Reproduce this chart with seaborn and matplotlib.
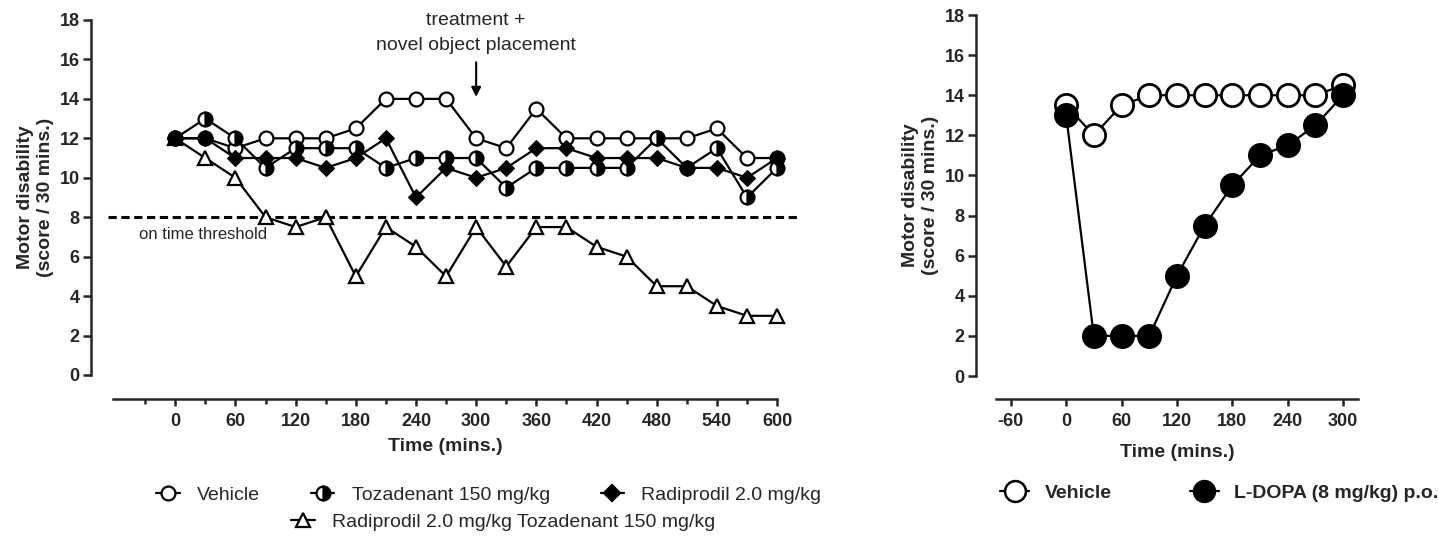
import pandas as pd
import seaborn as sns
import matplotlib.pyplot as plt
from matplotlib.lines import Line2D
from matplotlib.ticker import FixedLocator

# Datos panel izquierdo (puntuacion / 30 min)
tiempo_izq = list(range(0, 601, 30))
vehiculo = [12, 12, 11.5, 12, 12, 12, 12.5, 14, 14, 14, 12, 11.5, 13.5, 12, 12, 12, 12, 12, 12.5, 11, 11]
tozadenant = [12, 13, 12, 10.5, 11.5, 11.5, 11.5, 10.5, 11, 11, 11, 9.5, 10.5, 10.5, 10.5, 10.5, 12, 10.5, 11.5, 9, 10.5]
radiprodil = [12, 12, 11, 11, 11, 10.5, 11, 12, 9, 10.5, 10, 10.5, 11.5, 11.5, 11, 11, 11, 10.5, 10.5, 10, 11]
combinado = [12, 11, 10, 8, 7.5, 8, 5, 7.5, 6.5, 5, 7.5, 5.5, 7.5, 7.5, 6.5, 6, 4.5, 4.5, 3.5, 3, 3]
umbral = 8
tiempo_tratamiento = 300

# Datos panel derecho
tiempo_der = list(range(0, 301, 30))
vehiculo_der = [13.5, 12, 13.5, 14, 14, 14, 14, 14, 14, 14, 14.5]
ldopa = [13, 2, 2, 2, 5, 7.5, 9.5, 11, 11.5, 12.5, 14]

etiquetas_izq = ['Vehicle', 'Tozadenant 150 mg/kg', 'Radiprodil 2.0 mg/kg',
                 'Radiprodil 2.0 mg/kg Tozadenant 150 mg/kg']
etiquetas_der = ['Vehicle', 'L-DOPA (8 mg/kg) p.o.']

sns.set_style('ticks')
plt.rcParams['font.family'] = ['Liberation Sans', 'DejaVu Sans']
plt.rcParams['axes.linewidth'] = 1.8
plt.rcParams['axes.unicode_minus'] = False

fig = plt.figure(figsize=(14.38, 5.4), dpi=100)

# estilos de marcador
estilo_veh = dict(marker='o', markerfacecolor='white', markeredgecolor='black')
estilo_toz = dict(marker='o', fillstyle='right', markerfacecolor='black',
                  markerfacecoloralt='white', markeredgecolor='black')
estilo_rad = dict(marker='D', markerfacecolor='black', markeredgecolor='black')
estilo_comb = dict(marker='^', markerfacecolor='white', markeredgecolor='black')
estilo_ldopa = dict(marker='o', markerfacecolor='black', markeredgecolor='black')


def preparar_ejes(ax, xlim, xticks, off_left, off_bottom, pad_x=6):
    # los desplazamientos van en puntos (72 por pulgada)
    ax.set_xlim(*xlim)
    ax.set_ylim(0, 18)
    sns.despine(ax=ax)
    ax.spines['left'].set_position(('outward', off_left))
    ax.spines['bottom'].set_position(('outward', off_bottom))
    ax.spines['left'].set_linewidth(1.8)
    ax.spines['bottom'].set_linewidth(1.8)
    ax.set_xticks(xticks)
    ax.set_yticks(range(0, 19, 2))
    ax.tick_params(axis='y', length=6, width=1.8, labelsize=13, pad=2)
    ax.tick_params(axis='x', which='major', length=5, width=1.8, labelsize=13, pad=5)
    for lab in ax.get_xticklabels() + ax.get_yticklabels():
        lab.set_fontweight('bold')
    ax.set_xlabel('Time (mins.)', fontsize=14, fontweight='bold', labelpad=pad_x)
    ax.set_ylabel('Motor disability\n(score / 30 mins.)', fontsize=14,
                  fontweight='bold', labelpad=4)


# Panel izquierdo
ax1 = fig.add_axes([0.0786, 0.3056, 0.4618, 0.6574])
comunes = dict(color='black', lw=1.6, markersize=10, markeredgewidth=1.6, clip_on=False)
df_izq = pd.DataFrame({'t': tiempo_izq, 'veh': vehiculo, 'toz': tozadenant,
                       'rad': radiprodil, 'comb': combinado})
sns.lineplot(data=df_izq, x='t', y='comb', ax=ax1, zorder=3, **comunes, **estilo_comb)
sns.lineplot(data=df_izq, x='t', y='veh', ax=ax1, zorder=4, **comunes, **estilo_veh)
sns.lineplot(data=df_izq, x='t', y='toz', ax=ax1, zorder=5, **comunes, **estilo_toz)
sns.lineplot(data=df_izq, x='t', y='rad', ax=ax1, zorder=6, color='black', lw=1.6,
             markersize=8, clip_on=False, **estilo_rad)
preparar_ejes(ax1, (-62, 600), range(0, 601, 60), 16, 17.3)
ax1.xaxis.set_minor_locator(FixedLocator(list(range(-30, 600, 60))))
ax1.tick_params(axis='x', which='minor', length=3.5, width=1.8)

ax1.axhline(umbral, xmin=-0.008, xmax=1.03, color='black', lw=2.2,
            ls=(0, (2.7, 1.5)), clip_on=False, zorder=1)
ax1.text(-36, umbral - 0.9, 'on time threshold', fontsize=12, va='center', ha='left')
ax1.annotate('treatment +\nnovel object placement', xy=(tiempo_tratamiento, 14.1),
             xytext=(tiempo_tratamiento, 16.3), ha='center', va='bottom',
             fontsize=14, linespacing=1.6,
             arrowprops=dict(arrowstyle='-|>', color='black', lw=1.5,
                             shrinkA=4, shrinkB=0, mutation_scale=14))

# Panel derecho
ax2 = fig.add_axes([0.6926, 0.3037, 0.2517, 0.6685])
df_der = pd.DataFrame({'t': tiempo_der, 'veh': vehiculo_der, 'ldopa': ldopa})
comunes_der = dict(color='black', lw=1.6, markersize=16, markeredgewidth=2, clip_on=False)
sns.lineplot(data=df_der, x='t', y='veh', ax=ax2, zorder=3, **comunes_der, **estilo_veh)
sns.lineplot(data=df_der, x='t', y='ldopa', ax=ax2, zorder=4, **comunes_der, **estilo_ldopa)
preparar_ejes(ax2, (-76, 316), range(-60, 301, 60), 14.5, 16.6, pad_x=10)

# Leyendas
def asa(estilo, ms, mew):
    return Line2D([], [], color='black', lw=1.6, markersize=ms, markeredgewidth=mew, **estilo)

h_izq = [asa(estilo_veh, 10, 1.6), asa(estilo_toz, 10, 1.6), asa(estilo_rad, 8, 1.6),
         asa(estilo_comb, 10, 1.6)]
ley1 = fig.legend(h_izq[:3], etiquetas_izq[:3], ncol=3, loc='center',
                  bbox_to_anchor=(0.340, 0.083), frameon=False, fontsize=14,
                  handlelength=1.2, handletextpad=0.9, columnspacing=2.6)
ley2 = fig.legend(h_izq[3:], etiquetas_izq[3:], loc='center',
                  bbox_to_anchor=(0.350, 0.033), frameon=False, fontsize=14,
                  handlelength=1.2, handletextpad=0.9)

h_der = [asa(estilo_veh, 15, 1.8), asa(estilo_ldopa, 15, 1.8)]
ley3 = fig.legend(h_der, etiquetas_der, ncol=2, loc='center',
                  bbox_to_anchor=(0.848, 0.087), frameon=False,
                  prop={'size': 14, 'weight': 'bold'},
                  handlelength=1.5, handletextpad=0.8, columnspacing=4.0)

fig.savefig('out.png', dpi=100)
